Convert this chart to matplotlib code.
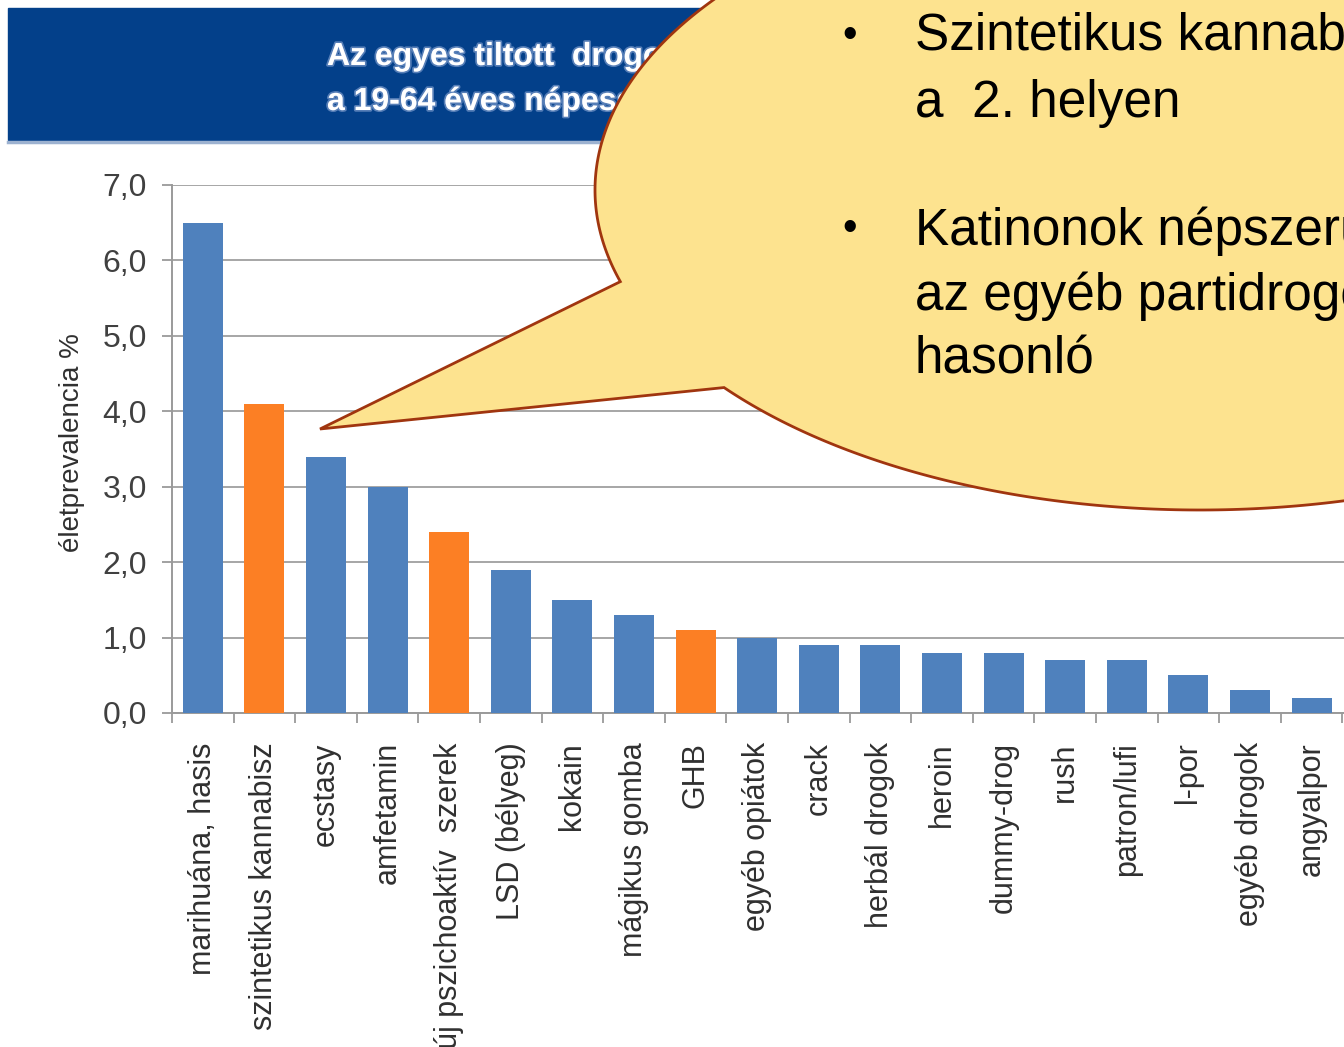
import numpy as np
import matplotlib.pyplot as plt
from matplotlib.patches import Rectangle, Polygon
import matplotlib.patheffects as pe

plt.rcParams['font.family'] = ['Liberation Sans', 'DejaVu Sans']

# adatok
categories = ['marihuána, hasis', 'szintetikus kannabisz', 'ecstasy', 'amfetamin',
              'új pszichoaktív  szerek', 'LSD (bélyeg)', 'kokain', 'mágikus gomba',
              'GHB', 'egyéb opiátok', 'crack', 'herbál drogok', 'heroin',
              'dummy-drog', 'rush', 'patron/lufi', 'l-por', 'egyéb drogok', 'angyalpor']
values = [6.5, 4.1, 3.4, 3.0, 2.4, 1.9, 1.5, 1.3, 1.1, 1.0, 0.9, 0.9, 0.8,
          0.8, 0.7, 0.7, 0.5, 0.3, 0.2]
highlight = ['szintetikus kannabisz', 'új pszichoaktív  szerek', 'GHB']
yticks = [0, 1, 2, 3, 4, 5, 6, 7]
ytick_labels = ['0,0', '1,0', '2,0', '3,0', '4,0', '5,0', '6,0', '7,0']
ylabel = 'életprevalencia %'

title_lines = ['Az egyes tiltott  drogok életprevalenciája',
               'a 19-64 éves népességben']
bubble_lines = ['Szintetikus kannabinoidok', 'a  2. helyen',
                'Katinonok népszerűsége', 'az egyéb partidrogokéhoz', 'hasonló']

BLUE = '#4F81BD'
ORANGE = '#FC7F24'
GRID = '#A6A6A6'

W, H = 1344, 1047
fig = plt.figure(figsize=(W / 100, H / 100), dpi=100)
fig.patch.set_facecolor('white')


def px_box(x0, y0, x1, y1):
    return [x0 / W, 1 - y1 / H, (x1 - x0) / W, (y1 - y0) / H]


# fő grafikon
ax = fig.add_axes(px_box(172, 185, 1404, 713))
x = np.arange(len(categories))
colors = [ORANGE if c in highlight else BLUE for c in categories]
ax.bar(x, values, width=0.65, color=colors, zorder=3)

ax.set_xlim(-0.5, len(categories) + 0.5)
ax.set_ylim(0, 7)
ax.set_yticks(yticks)
ax.set_yticklabels(ytick_labels)
ax.set_xticks(x)
ax.set_xticklabels(categories, rotation=90)
ax.set_xticks(np.arange(-0.5, len(categories) + 1), minor=True)

ax.yaxis.grid(True, color=GRID, lw=1.4, zorder=0)
ax.set_axisbelow(True)
for s in ['top', 'right']:
    ax.spines[s].set_visible(False)
for s in ['left', 'bottom']:
    ax.spines[s].set_color('#9A9A9A')
    ax.spines[s].set_linewidth(1.4)

ax.tick_params(axis='y', length=7, width=1.3, color='#9A9A9A', pad=11,
               labelsize=23, labelcolor='#404040')
ax.tick_params(axis='x', which='major', length=0, pad=21,
               labelsize=22, labelcolor='#303030')
ax.tick_params(axis='x', which='minor', length=7, width=1.3, color='#9A9A9A')

# rátét: fejléc, buborék
ov = fig.add_axes([0, 0, 1, 1], zorder=10)
ov.set_xlim(0, W)
ov.set_ylim(H, 0)
ov.axis('off')
ov.patch.set_alpha(0)

ov.text(72, 443, ylabel, rotation=90, fontsize=20, color='#303030',
        ha='center', va='center')

ov.add_patch(Rectangle((8, 8), W, 132, color='#03408A', zorder=1))
ov.plot([8, W], [141.5, 141.5], color='#9DB2D0', lw=2.5, zorder=1)

glow = [pe.withStroke(linewidth=2.5, foreground='#8FA9D6', alpha=0.6)]
ov.text(327, 65, title_lines[0], color='white', fontsize=23, fontweight='bold',
        va='baseline', ha='left', zorder=2, path_effects=glow)
ov.text(327, 110, title_lines[1], color='white', fontsize=23, fontweight='bold',
        va='baseline', ha='left', zorder=2, path_effects=glow)

# buborék alakja
cx, cy, a, b = 1200, 190, 605, 320
tip = (320, 429)
j1, j2 = (618, 282), (723, 388)
t1 = np.arctan2((j1[1] - cy) / b, (j1[0] - cx) / a)
t2 = np.arctan2((j2[1] - cy) / b, (j2[0] - cx) / a) + 2 * np.pi
tt = np.linspace(t1, t2, 500)
arc = np.column_stack([cx + a * np.cos(tt), cy + b * np.sin(tt)])
pts = np.vstack([[tip], arc])
ov.add_patch(Polygon(pts, closed=True, facecolor='#FDE38F', edgecolor='#A0350F',
                     lw=2, joinstyle='miter', zorder=3))

line_y = [50, 117, 245, 310, 374]
for txt, yy in zip(bubble_lines, line_y):
    ov.text(915, yy, txt, fontsize=37, color='black', va='baseline',
            ha='left', zorder=4)
for yy in [36, 229]:
    ov.text(850, yy, '•', fontsize=30, color='black', va='center',
            ha='center', zorder=4)

fig.savefig('out.png', dpi=100)
